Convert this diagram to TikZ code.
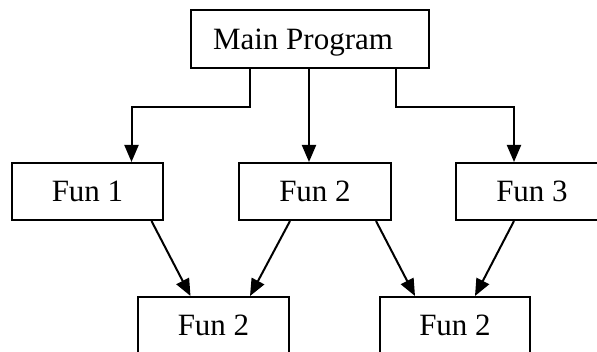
\documentclass[tikz,border=0pt]{standalone}
\usepackage{fontspec}
\setmainfont{Liberation Serif}
\usetikzlibrary{arrows.meta,calc}
\begin{document}
\begin{tikzpicture}[x=1pt,y=-1pt,
  box/.style={draw=black, line width=2pt, rectangle, inner sep=0pt,
    minimum height=57pt, text height=20.5pt, text depth=0pt,
    font=\fontsize{31}{37}\selectfont},
  arr/.style={draw=black, line width=2pt,
    -{Triangle[length=17pt,width=14pt]}}]
  \clip (0,0) rectangle (597,352);
  % boxes
  \node[box, minimum width=238pt, minimum height=58pt] (main) at (310,39) {\hspace*{-14pt}Main Program};
  \node[box, minimum width=151pt] (fun1) at (87.5,191.5) {Fun 1};
  \node[box, minimum width=152pt] (fun2) at (315,191.5) {Fun 2};
  \node[box, minimum width=152pt] (fun3) at (532,191.5) {Fun 3};
  \node[box, minimum width=151pt] (low1) at (213.5,325.5) {Fun 2};
  \node[box, minimum width=150pt] (low2) at (455,325.5) {Fun 2};
  % calls from the main program
  \draw[arr] ([xshift=-60pt]main.south) -- ++(0,38) -| ([xshift=44pt]fun1.north);
  \draw[arr] ([xshift=-1pt]main.south) -- ([xshift=-6pt]fun2.north);
  \draw[arr] ([xshift=86pt]main.south) -- ++(0,38) -| ([xshift=-18pt]fun3.north);
  % calls into the shared routines
  \draw[arr] ([xshift=64pt]fun1.south) -- ([xshift=-23pt]low1.north);
  \draw[arr] ([xshift=-25pt]fun2.south) -- ([xshift=36.5pt]low1.north);
  \draw[arr] ([xshift=61pt]fun2.south) -- ([xshift=-40pt]low2.north);
  \draw[arr] ([xshift=-18pt]fun3.south) -- ([xshift=20pt]low2.north);
\end{tikzpicture}
\end{document}
